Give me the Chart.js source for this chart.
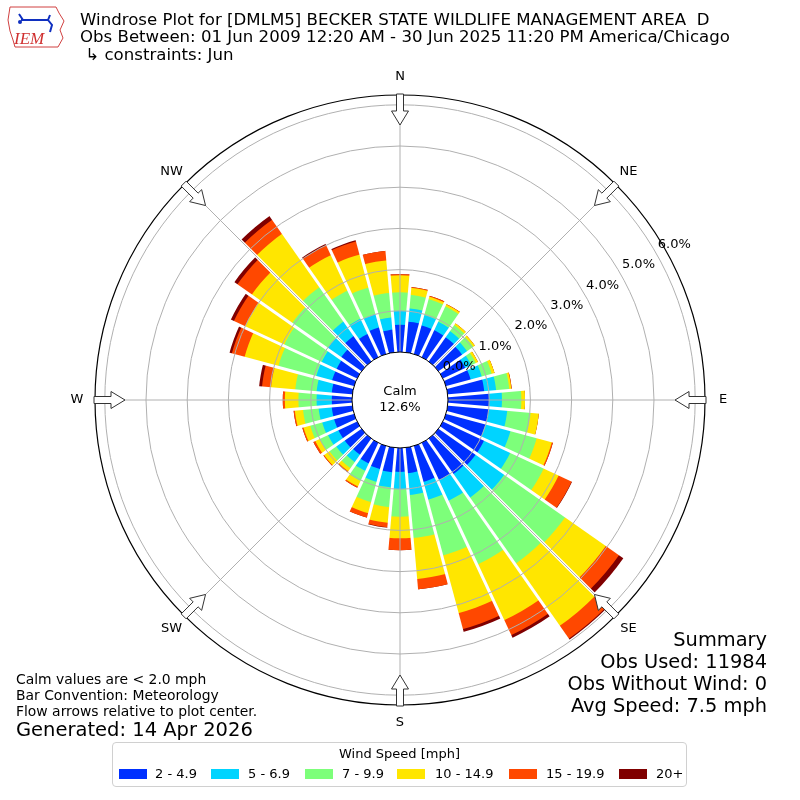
<!DOCTYPE html>
<html>
<head>
<meta charset="utf-8">
<script src="https://cdn.jsdelivr.net/npm/chart.js@4.4.1/dist/chart.umd.min.js"></script>
<style>
  body { margin: 0; background: #fff; font-family: 'DejaVu Sans', sans-serif; }
  #wrap { position: relative; width: 800px; height: 800px; overflow: hidden; }
  #rose { position: absolute; left: 0; top: 0; }
  .t { position: absolute; white-space: pre; color: #000; line-height: 1; }
  #legend { position: absolute; left: 112px; top: 742px; width: 575px; height: 45px;
            border: 1px solid #d0d0d0; border-radius: 4px; box-sizing: border-box; }
  .patch { position: absolute; width: 28px; height: 10px; top: 769px; }
</style>
</head>
<body>
<div id="wrap">
  <canvas id="rose" width="800" height="800"></canvas>

  <svg style="position:absolute;left:0;top:0" width="70" height="52">
    <path d="M10,7 L56,7 L59,13 L64,21 L60,30 L63,38 L58,47 L15,47 L13,40 L10,31 L8,20 Z"
          fill="none" stroke="#d04040" stroke-width="1"/>
    <path d="M19,14 L23,20 M21,20 L48,20 L50,15 M48,20 L52,25 L50,32" stroke="#1030c0" stroke-width="2" fill="none"/>
    <circle cx="20" cy="22" r="2" fill="#1030c0"/>
    <text x="14" y="44" font-family="Liberation Serif" font-style="italic" font-size="17" fill="#d03030">IEM</text>
  </svg>

  <div class="t" style="left:80px;top:12px;font-size:16.6px">Windrose Plot for [DMLM5] BECKER STATE WILDLIFE MANAGEMENT AREA  D</div>
  <div class="t" style="left:80px;top:29px;font-size:16.6px">Obs Between: 01 Jun 2009 12:20 AM - 30 Jun 2025 11:20 PM America/Chicago</div>
  <div class="t" style="left:80px;top:47px;font-size:16.6px"> ↳ constraints: Jun</div>

  <div class="t" style="right:33px;top:630px;font-size:19.4px;text-align:right">Summary</div>
  <div class="t" style="right:33px;top:652px;font-size:19.4px;text-align:right">Obs Used: 11984</div>
  <div class="t" style="right:33px;top:674px;font-size:19.4px;text-align:right">Obs Without Wind: 0</div>
  <div class="t" style="right:33px;top:696px;font-size:19.4px;text-align:right">Avg Speed: 7.5 mph</div>

  <div class="t" style="left:16px;top:673px;font-size:13.9px">Calm values are &lt; 2.0 mph</div>
  <div class="t" style="left:16px;top:689px;font-size:13.9px">Bar Convention: Meteorology</div>
  <div class="t" style="left:16px;top:705px;font-size:13.9px">Flow arrows relative to plot center.</div>
  <div class="t" style="left:16px;top:720px;font-size:19.5px">Generated: 14 Apr 2026</div>

  <div id="legend"></div>
  <div class="t" style="left:112px;width:575px;top:747px;font-size:13px;text-align:center">Wind Speed [mph]</div>
  <div id="legendItems"></div>
</div>

<script>
// wind directions (degrees, meteorological) and speed bins
const directions = [0, 10, 20, 30, 40, 50, 60, 70, 80, 90, 100, 110, 120, 130, 140, 150, 160, 170,
                    180, 190, 200, 210, 220, 230, 240, 250, 260, 270, 280, 290, 300, 310, 320, 330, 340, 350];
const speedBins = ['2 - 4.9', '5 - 6.9', '7 - 9.9', '10 - 14.9', '15 - 19.9', '20+'];

// frequency (%) of each speed bin per direction
const pct2to5   = [0.66, 0.75, 0.72, 0.72, 0.72, 0.70, 0.60, 0.62, 0.89, 1.00, 1.00, 0.99, 1.10, 1.10, 1.05, 1.00, 0.90, 0.62,
                   0.58, 0.60, 0.58, 0.55, 0.48, 0.50, 0.50, 0.50, 0.50, 0.49, 0.50, 0.55, 0.55, 0.60, 0.75, 0.62, 0.67, 0.55];
const pct5to7   = [0.34, 0.32, 0.26, 0.23, 0.18, 0.15, 0.16, 0.28, 0.29, 0.31, 0.45, 0.63, 0.70, 0.85, 0.70, 0.55, 0.45, 0.53,
                   0.42, 0.37, 0.32, 0.20, 0.22, 0.25, 0.28, 0.30, 0.32, 0.37, 0.37, 0.40, 0.40, 0.40, 0.43, 0.41, 0.33, 0.30];
const pct7to10  = [0.45, 0.33, 0.40, 0.41, 0.18, 0.18, 0.12, 0.25, 0.32, 0.47, 0.57, 0.66, 0.90, 1.80, 1.95, 1.70, 1.40, 1.05,
                   0.67, 0.48, 0.51, 0.27, 0.18, 0.20, 0.22, 0.30, 0.38, 0.44, 0.52, 0.95, 1.00, 1.05, 1.02, 0.75, 0.67, 0.60];
const pct10to15 = [0.41, 0.17, 0.06, 0.05, 0.05, 0.05, 0.06, 0.07, 0.05, 0.09, 0.20, 0.38, 0.40, 1.21, 1.85, 1.50, 1.45, 1.00,
                   0.52, 0.38, 0.28, 0.15, 0.09, 0.16, 0.12, 0.17, 0.20, 0.33, 0.59, 0.85, 1.05, 1.20, 1.58, 0.95, 0.83, 0.79];
const pct15to20 = [0.03, 0.02, 0.02, 0.01, 0.00, 0.00, 0.00, 0.00, 0.01, 0.00, 0.00, 0.03, 0.35, 0.39, 0.38, 0.40, 0.40, 0.25,
                   0.29, 0.11, 0.11, 0.03, 0.03, 0.02, 0.05, 0.03, 0.03, 0.05, 0.22, 0.32, 0.30, 0.43, 0.42, 0.27, 0.33, 0.23];
const pct20up   = [0.00, 0.00, 0.00, 0.00, 0.00, 0.00, 0.00, 0.00, 0.00, 0.00, 0.00, 0.00, 0.01, 0.13, 0.03, 0.07, 0.07, 0.00,
                   0.00, 0.01, 0.00, 0.00, 0.00, 0.00, 0.00, 0.00, 0.00, 0.00, 0.07, 0.06, 0.08, 0.09, 0.11, 0.03, 0.03, 0.00];

const ringTicks = [0, 1, 2, 3, 4, 5, 6];
const compassLabels = ['N', 'NE', 'E', 'SE', 'S', 'SW', 'W', 'NW'];
const calmPct = 12.6;

const binColors = ['#0030ff', '#00d4ff', '#7dff7a', '#ffe600', '#ff4800', '#800000'];

// radial scale: 0% sits on the edge of the calm circle
const R_MIN = -1.165;
const R_MAX = 6.238;

// legend
(function () {
    const box = document.getElementById('legendItems');
    const patchX = [119, 211, 305, 397, 509, 619];
    const textX = [155, 248, 342, 435, 546, 656];
    speedBins.forEach((name, k) => {
        const p = document.createElement('div');
        p.className = 'patch';
        p.style.left = patchX[k] + 'px';
        p.style.background = binColors[k];
        box.appendChild(p);
        const t = document.createElement('div');
        t.className = 't';
        t.style.left = textX[k] + 'px';
        t.style.top = '767px';
        t.style.fontSize = '13px';
        t.textContent = name;
        box.appendChild(t);
    });
})();

// stacked bars: each dataset holds the running total, smallest drawn on top
const binValues = [pct2to5, pct5to7, pct7to10, pct10to15, pct15to20, pct20up];
let running = directions.map(() => 0);
const datasets = binValues.map((vals, k) => {
    running = running.map((s, i) => s + vals[i]);
    return {
        label: speedBins[k],
        data: running.slice(),
        backgroundColor: binColors[k],
        borderWidth: 0,
        rAxisID: 'r'
    };
});

const roseDecor = {
    id: 'roseDecor',
    afterDraw(chart) {
        const ctx = chart.ctx;
        const sc = chart.scales.r;
        const cx = sc.xCenter, cy = sc.yCenter;
        const outer = sc.getDistanceFromCenterForValue(R_MAX);

        ctx.save();
        // ring labels
        ctx.font = '13px "DejaVu Sans"';
        ctx.fillStyle = '#000';
        ctx.textAlign = 'center';
        ctx.textBaseline = 'middle';
        const la = 60.5 * Math.PI / 180;
        ringTicks.forEach(v => {
            const d = sc.getDistanceFromCenterForValue(v) + 20;
            ctx.fillText(v.toFixed(1) + '%', cx + d * Math.sin(la), cy - d * Math.cos(la));
        });

        // compass arrows and labels
        compassLabels.forEach((lab, i) => {
            const a = i * 45 * Math.PI / 180;
            const ux = Math.sin(a), uy = -Math.cos(a);
            const px = -uy, py = ux;
            const pt = (r, w) => [cx + ux * r + px * w, cy + uy * r + py * w];
            const poly = [pt(outer + 1, -3.5), pt(outer - 16, -3.5), pt(outer - 16, -8.5), pt(outer - 30, 0),
                          pt(outer - 16, 8.5), pt(outer - 16, 3.5), pt(outer + 1, 3.5)];
            ctx.beginPath();
            ctx.moveTo(poly[0][0], poly[0][1]);
            poly.slice(1).forEach(p => ctx.lineTo(p[0], p[1]));
            ctx.closePath();
            ctx.fillStyle = '#fff';
            ctx.fill();
            ctx.strokeStyle = '#333';
            ctx.lineWidth = 1;
            ctx.stroke();

            ctx.fillStyle = '#000';
            ctx.font = '13px "DejaVu Sans"';
            ctx.fillText(lab, cx + ux * (outer + 18), cy + uy * (outer + 18));
        });

        // calm circle
        const hole = sc.getDistanceFromCenterForValue(0);
        ctx.beginPath();
        ctx.arc(cx, cy, hole, 0, Math.PI * 2);
        ctx.fillStyle = '#fff';
        ctx.fill();
        ctx.strokeStyle = '#000';
        ctx.lineWidth = 1;
        ctx.stroke();
        ctx.fillStyle = '#000';
        ctx.font = '13px "DejaVu Sans"';
        ctx.fillText('Calm', cx, cy - 8);
        ctx.fillText(calmPct.toFixed(1) + '%', cx, cy + 8);
        ctx.restore();
    }
};

new Chart(document.getElementById('rose').getContext('2d'), {
    type: 'polarArea',
    data: {
        labels: directions.map(d => d + '°'),
        datasets: datasets
    },
    options: {
        responsive: false,
        animation: false,
        devicePixelRatio: 1,
        events: [],
        layout: { padding: 95 },
        plugins: {
            legend: { display: false },
            tooltip: { enabled: false }
        },
        scales: {
            r: {
                min: R_MIN,
                max: R_MAX,
                startAngle: -5,
                ticks: { display: false, stepSize: 1 },
                pointLabels: { display: false },
                grid: { display: false, z: 1 },
                angleLines: { display: true, color: '#fff', lineWidth: 3 }
            },
            rDir: {
                type: 'radialLinear',
                axis: 'r',
                labels: compassLabels,
                min: R_MIN,
                max: R_MAX,
                startAngle: 0,
                ticks: { display: false, stepSize: 1 },
                pointLabels: { display: false },
                grid: {
                    z: 2,
                    circular: true,
                    color: (c) => {
                        const v = c.tick ? c.tick.value : NaN;
                        if (Math.abs(v - R_MAX) < 1e-6) return '#000';
                        if (ringTicks.includes(v) && v > 0) return '#b0b0b0';
                        return 'rgba(0,0,0,0)';
                    },
                    lineWidth: (c) => (c.tick && Math.abs(c.tick.value - R_MAX) < 1e-6) ? 1.2 : 1
                },
                angleLines: { display: true, color: '#b0b0b0', lineWidth: 1 }
            }
        }
    },
    plugins: [roseDecor]
});
</script>
</body>
</html>
